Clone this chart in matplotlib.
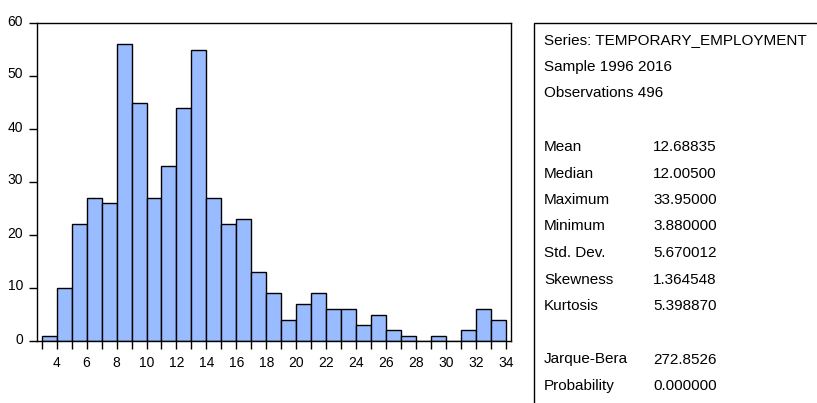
import matplotlib.pyplot as plt
import matplotlib.transforms as mtransforms
import numpy as np
from matplotlib.patches import Rectangle

plt.rcParams['font.family'] = ['Liberation Sans', 'DejaVu Sans']

# histogram bins (width 1) and counts
bin_left = np.arange(3, 34)
counts = [1, 10, 22, 27, 26, 56, 45, 27, 33, 44, 55, 27, 22, 23, 13, 9,
          4, 7, 9, 6, 6, 3, 5, 2, 1, 0, 1, 0, 2, 6, 4]

stat_names = ['Mean', 'Median', 'Maximum', 'Minimum', 'Std. Dev.',
              'Skewness', 'Kurtosis']
stat_values = ['12.68835', '12.00500', '33.95000', '3.880000', '5.670012',
               '1.364548', '5.398870']
jb_names = ['Jarque-Bera', 'Probability']
jb_values = ['272.8526', '0.000000']

W, H = 817, 403
fig = plt.figure(figsize=(W / 100, H / 100), dpi=100)
ax = fig.add_axes([37 / W, 1 - 341 / H, (510.7 - 37) / W, (341 - 23) / H])

ax.bar(bin_left, counts, width=1, align='edge', color='#99bbff',
       edgecolor='black', linewidth=1.0)

ax.set_xlim(2.69, 34.31)
ax.set_ylim(0, 60)
ax.set_xticks(np.arange(4, 35, 2))
ax.set_xticks(np.arange(3, 35), minor=True)
ax.set_yticks(np.arange(0, 61, 10))
ax.tick_params(axis='both', which='both', direction='out', length=6, width=1,
               labelsize=10, colors='black')
ax.tick_params(axis='x', pad=5)
ax.tick_params(axis='y', pad=4)
for s in ax.spines.values():
    s.set_linewidth(1)

# y labels sit a little above their ticks
up = mtransforms.ScaledTranslation(0, 3 / 100, fig.dpi_scale_trans)
for lab in ax.get_yticklabels():
    lab.set_transform(lab.get_transform() + up)

# statistics panel
fig.patches.append(Rectangle((534 / W, -0.1), 0.5, 1 - 23 / H + 0.1,
                             transform=fig.transFigure, fill=False,
                             edgecolor='black', linewidth=1))

def row_y(px):
    return 1 - px / H

fs = 11
fig.text(544 / W, row_y(40), 'Series: TEMPORARY_EMPLOYMENT', fontsize=fs, va='center')
fig.text(544 / W, row_y(66.5), 'Sample 1996 2016', fontsize=fs, va='center')
fig.text(544 / W, row_y(93), 'Observations 496', fontsize=fs, va='center')

y0 = 147
for i, (n, v) in enumerate(zip(stat_names, stat_values)):
    fig.text(544 / W, row_y(y0 + i * 26.5), n, fontsize=fs, va='center')
    fig.text(653 / W, row_y(y0 + i * 26.5), v, fontsize=fs, va='center')

y1 = 359.5
for i, (n, v) in enumerate(zip(jb_names, jb_values)):
    fig.text(544 / W, row_y(y1 + i * 26.5), n, fontsize=fs, va='center')
    fig.text(653 / W, row_y(y1 + i * 26.5), v, fontsize=fs, va='center')

fig.savefig('out.png', dpi=100)
